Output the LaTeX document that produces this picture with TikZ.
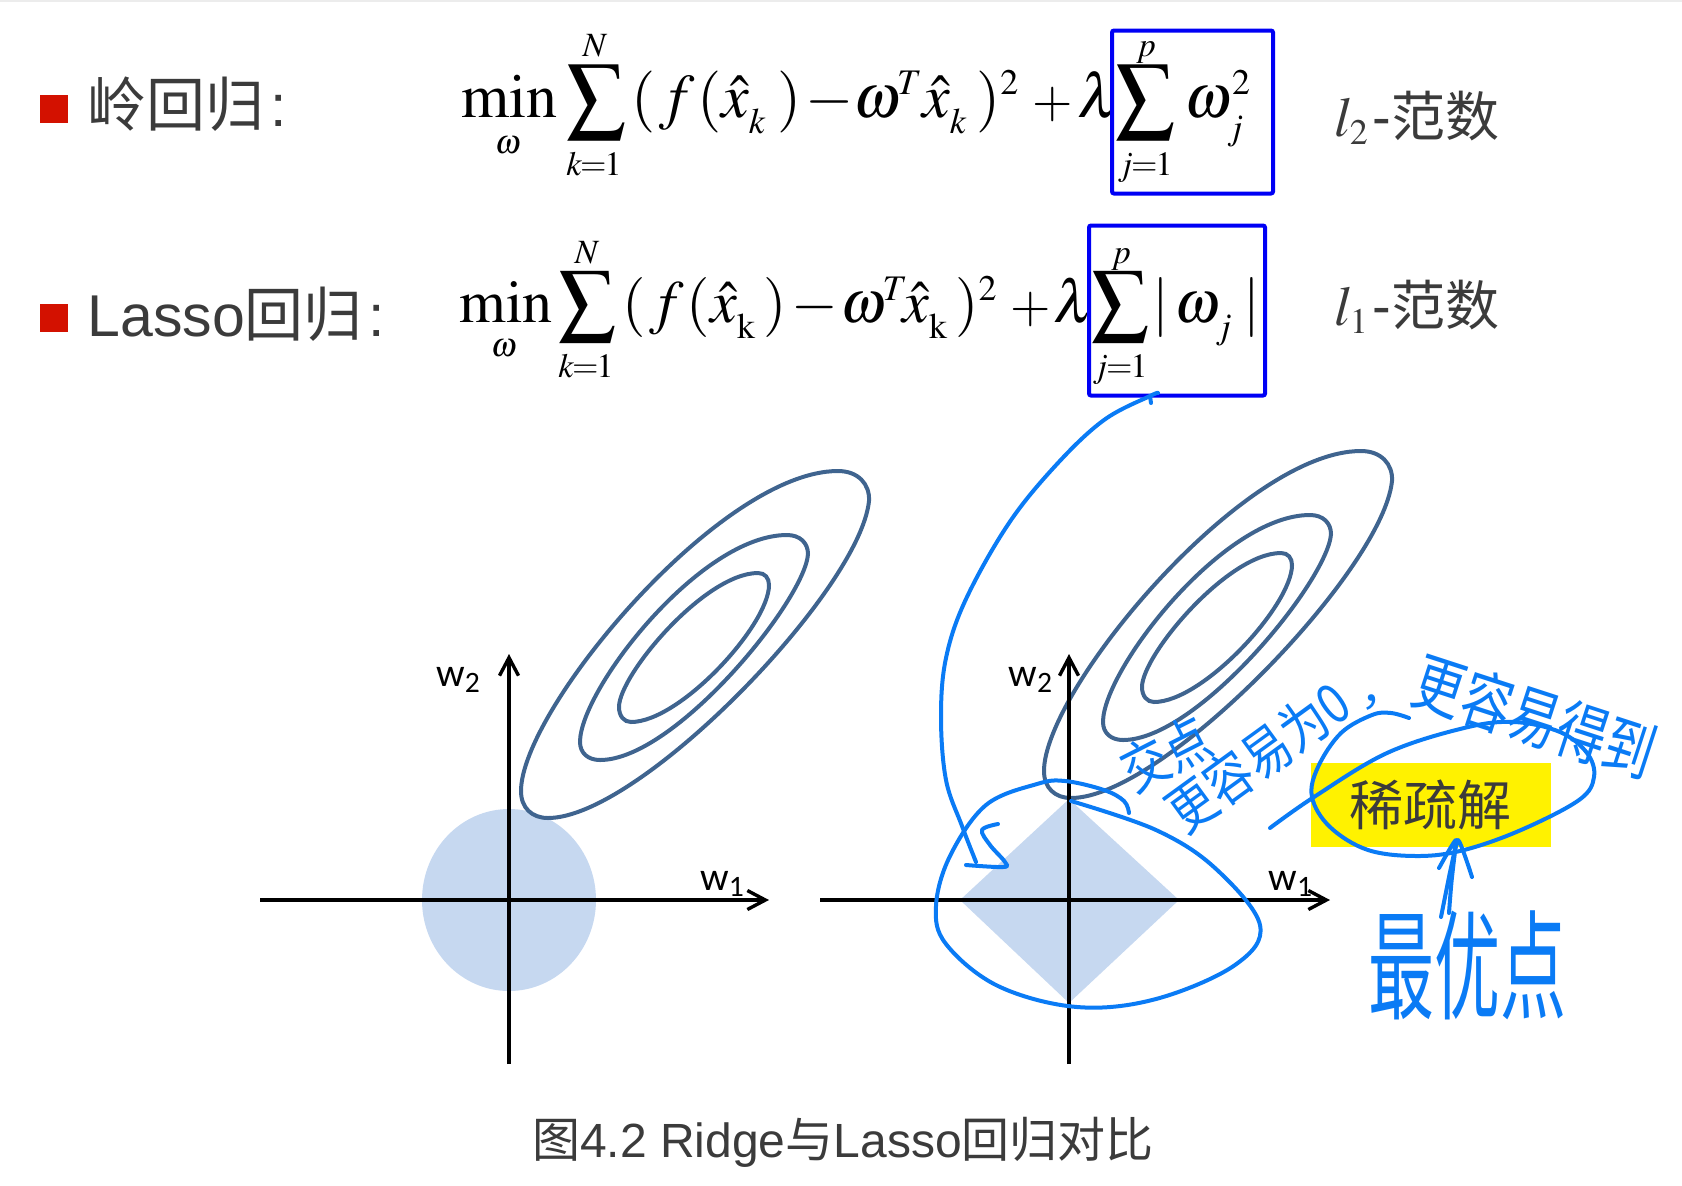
\documentclass[tikz,border=0pt]{standalone}
\usepackage{mathptmx}
\usepackage[no-math]{fontspec}
\setmainfont{Liberation Sans}
\newfontfamily\cjk{Noto Sans CJK SC}
\newfontfamily\axisfont{Carlito}
\usepackage{xcolor}
\usetikzlibrary{arrows.meta}

\definecolor{bulletred}{HTML}{D31100}
\definecolor{slidegray}{HTML}{3B3B3B}
\definecolor{boxblue}{HTML}{0000F5}
\definecolor{inkblue}{HTML}{0A7BF5}
\definecolor{regionblue}{HTML}{C6D8F0}
\definecolor{contourblue}{HTML}{3F648F}

\DeclareMathSizes{31}{31}{18}{14}
\DeclareMathSizes{30}{30}{18}{14}
\DeclareMathSizes{28}{28}{18}{14}
\newcommand{\fs}[1]{\fontsize{#1}{#1}\selectfont}
\newcommand{\bigsum}[2]{\resizebox*{#1}{#2}{$\displaystyle\sum$}}
\newcommand{\lowsub}[1]{\raisebox{-3.5pt}{$\scriptstyle #1$}}

% the three nested level curves, used by both plots
\newcommand{\levelcurves}{
    \draw[contour] (838,471) .. controls (858,471) and (870,484) .. (869,501)
        .. controls (860,590) and (640,818) .. (548,818)
        .. controls (532,818) and (521,808) .. (521,791)
        .. controls (521,710) and (720,471) .. cycle;
    \draw[contour] (787,535) .. controls (800,535) and (808,543) .. (808,554)
        .. controls (805,600) and (675,760) .. (600,760)
        .. controls (588,760) and (580,753) .. (580,742)
        .. controls (580,690) and (700,535) .. cycle;
    \draw[contour] (758,573) .. controls (765,573) and (769,578) .. (769,585)
        .. controls (769,625) and (680,722) .. (631,722)
        .. controls (624,722) and (619,716) .. (619,707)
        .. controls (619,675) and (705,573) .. cycle;
}

\begin{document}
\begin{tikzpicture}[
        x=0.5pt, y=-0.5pt,
        % Styles for the slide text
        bullet/.style={fill=bulletred, minimum width=14pt, minimum height=14pt, inner sep=0pt},
        slidetext/.style={anchor=base west, inner sep=0pt, text=slidegray, font=\fs{29.5}},
        normtext/.style={anchor=base west, inner sep=0pt, text=slidegray, font=\fs{28}},
        caption/.style={inner sep=0pt, text=slidegray, font=\fs{24}},
        % Styles for the formulas
        mathpart/.style={anchor=base west, inner sep=0pt, font=\fs{31}},
        mathpartb/.style={anchor=base west, inner sep=0pt, font=\fs{30}},
        mathplus/.style={anchor=base west, inner sep=0pt, font=\fs{26}},
        mathsmall/.style={anchor=base, inner sep=0pt, font=\fs{17}},
        sumsign/.style={inner sep=0pt},
        normbox/.style={draw=boxblue, line width=2pt, rounded corners=1pt, inner sep=0pt},
        % Styles for the plots
        axis/.style={line width=1.7pt, black},
        axisarrow/.style={axis, -{Straight Barb[length=9pt, width=9.5pt, line width=1.7pt]}},
        axislabel/.style={anchor=base west, inner sep=0pt, font=\axisfont\fs{20}},
        contour/.style={line width=2pt, contourblue},
        % Styles for the handwriting
        ink/.style={line width=2pt, inkblue, line cap=round, line join=round},
        inktext/.style={inner sep=0pt, text=inkblue, font=\cjk\fs{23}, transform shape},
        sparsebox/.style={fill=yellow, minimum width=120pt, minimum height=42pt, inner sep=0pt, text=slidegray, font=\cjk\fs{27}}
    ]
    \useasboundingbox (0,0) rectangle (1682,1185);
    \fill[gray!15] (0,0) rectangle (1682,2);

    % --- RIDGE ROW ---
    \node[bullet] (ridgebullet) at (54,109) {};
    \node[slidetext] (ridgetitle) at (87,126) {{\cjk 岭回归}\hspace{3pt}:};

    \node[mathpart] (rmin) at (461,117) {$\mathrm{min}$};
    \node[mathsmall] (romega) at (508,153) {$\omega$};
    \node[sumsign] (rsum) at (596,102) {\bigsum{30pt}{37.5pt}};
    \node[mathsmall] (rtop) at (595,56) {$N$};
    \node[mathsmall] (rbottom) at (594,175) {$k\mkern-1mu{=}\mkern-1mu1$};
    \node[mathpart] (rparen) at (631,117) {$(\mkern1mu f\mkern1mu($};
    \node[mathpart] (rxhat) at (721,117) {$\hat{x}_{\lowsub{k}}$};
    \node[mathpart] (rclose) at (777,117) {$)$};
    \node[mathpart] (rminus) at (805,117) {$-$};
    \node[mathpart] (romegat) at (853,117) {$\omega^{\mkern-2mu T}$};
    \node[mathpart] (rxhatb) at (922,117) {$\hat{x}_{\lowsub{k}}$};
    \node[mathpart] (rcloseb) at (976,117) {$)^{2}$};
    \node[mathplus] (rplus) at (1032,117) {$+$};
    \node[mathpart] (rlambda) at (1077,117) {$\lambda$};
    \node[sumsign] (rnormsum) at (1145,102) {\bigsum{30pt}{37.5pt}};
    \node[mathsmall] (rnormtop) at (1146,56) {$p$};
    \node[mathsmall] (rnormbottom) at (1145,175) {$j\mkern-1mu{=}\mkern-1mu1$};
    \node[mathpart] (rnorm) at (1184,117) {$\omega_{\lowsub{j}}^{2}$};
    \node[normbox, minimum width=80.5pt, minimum height=81.5pt] (l2box) at (1192.5,112) {};
    \node[normtext] (l2label) at (1334,136) {$l_2$\hspace{2pt}-{\cjk\fs{27}范数}};

    % --- LASSO ROW ---
    \node[bullet] (lassobullet) at (54,318) {};
    \node[slidetext] (lassotitle) at (87,336) {Lasso{\cjk 回归}\hspace{3pt}:};

    \node[mathpartb] (lmin) at (459,322) {$\mathrm{min}$};
    \node[mathsmall] (lomega) at (504,356) {$\omega$};
    \node[sumsign] (lsum) at (587,307) {\bigsum{29pt}{35.5pt}};
    \node[mathsmall] (ltop) at (587,263) {$N$};
    \node[mathsmall] (lbottom) at (586,377) {$k\mkern-1mu{=}\mkern-1mu1$};
    \node[mathpartb] (lparen) at (622,322) {$(\mkern1mu f\mkern1mu($};
    \node[mathpartb] (lxhat) at (710,322) {$\hat{x}_{\lowsub{\mathrm{k}}}$};
    \node[mathpartb] (lclose) at (763,322) {$)$};
    \node[mathpartb] (lminus) at (791,322) {$-$};
    \node[mathpartb] (lomegat) at (840,322) {$\omega^{\mkern-2mu T}$};
    \node[mathpartb] (lxhatb) at (902,322) {$\hat{x}_{\lowsub{\mathrm{k}}}$};
    \node[mathpartb] (lcloseb) at (955,322) {$)^{2}$};
    \node[mathplus] (lplus) at (1010,322) {$+$};
    \node[mathpartb] (llambda) at (1053,322) {$\lambda$};
    \node[sumsign] (lnormsum) at (1120,307) {\bigsum{29pt}{35.5pt}};
    \node[mathsmall] (lnormtop) at (1121,263) {$p$};
    \node[mathsmall] (lnormbottom) at (1120,377) {$j\mkern-1mu{=}\mkern-1mu1$};
    \node[mathpartb] (lbar) at (1152,322) {$|$};
    \node[mathpartb] (lnorm) at (1174,322) {$\omega_{\lowsub{j}}$};
    \node[mathpartb] (lbarb) at (1243,322) {$|$};
    \node[normbox, minimum width=88pt, minimum height=85pt] (l1box) at (1177,310.5) {};
    \node[normtext] (l1label) at (1334,325) {$l_1$\hspace{2pt}-{\cjk\fs{27}范数}};

    % --- LEFT PLOT ---
    \fill[regionblue] (509,900) ellipse [x radius=87, y radius=91];
    \levelcurves
    \coordinate (lx0) at (260,900);
    \coordinate (lx1) at (769,900);
    \coordinate (ly0) at (509,1064);
    \coordinate (ly1) at (509,654);
    \draw[axisarrow] (lx0) -- (lx1);
    \draw[axisarrow] (ly0) -- (ly1);
    \node[axislabel] (lw2) at (436,686) {w\textsubscript{2}};
    \node[axislabel] (lw1) at (700,890) {w\textsubscript{1}};

    % --- RIGHT PLOT ---
    \fill[regionblue] (960,900) -- (1069,799) -- (1179,900) -- (1069,1003) -- cycle;
    \begin{scope}[shift={(523,-20)}]
        \levelcurves
    \end{scope}
    \coordinate (rx0) at (820,900);
    \coordinate (rx1) at (1330,900);
    \coordinate (ry0) at (1069,1064);
    \coordinate (ry1) at (1069,654);
    \draw[axisarrow] (rx0) -- (rx1);
    \draw[axisarrow] (ry0) -- (ry1);
    \node[axislabel] (rw2) at (1008,686) {w\textsubscript{2}};
    \node[axislabel] (rw1) at (1268,890) {w\textsubscript{1}};

    % --- HIGHLIGHT AND HANDWRITING ---
    \node[sparsebox] (sparse) at (1430.5,805) {稀疏解};

    % curve round the diamond
    \draw[ink] plot[smooth, tension=0.6] coordinates {(1071,801) (1156,830) (1215,868) (1260,925) (1235,965) (1156,999) (1077,1007) (998,986) (946,944) (936,906) (950,856) (986,805) (1037,784) (1065,781) (1104,790) (1124,801) (1129,813)};
    % curve from the box down to the diamond
    \draw[ink] plot[smooth, tension=0.6] coordinates {(1158,393) (1150,396) (1104,420) (1057,464) (1009,523) (966,599) (946,658) (941,717) (946,780) (962,826) (976,862)};
    \draw[ink] (1150,396) -- (1151,403);
    \draw[ink] plot[smooth, tension=0.6] coordinates {(998,824) (982,830) (990,845) (1005,862) (1003,867) (966,865)};
    % curve round the highlighted text
    \draw[ink] plot[smooth, tension=0.6] coordinates {(1270,828) (1314,797) (1387,753) (1464,728) (1514,722) (1560,732) (1587,753) (1594,777) (1579,800) (1521,830) (1464,850) (1418,856) (1368,850) (1330,827) (1312,797) (1318,767) (1341,733) (1372,715) (1391,713) (1409,718)};
    % stroke from the bottom note up to the curve
    \draw[ink] plot[smooth, tension=0.4] coordinates {(1441,917) (1449,877) (1456,840) (1439,868)};
    \draw[ink] plot[smooth, tension=0.4] coordinates {(1449,913) (1452,877) (1458,840) (1472,877)};

    \node[inktext, rotate=27, yscale=1.2] (crossnote) at (1166,754) {交点};
    \node[inktext, rotate=36, yscale=1.2] (zeronote) at (1258,757) {更容易为0};
    \node[inktext] (commanote) at (1383,703) {，};
    \node[inktext, font=\cjk\fs{25}, rotate=-18, yscale=1.3] (sparsenote) at (1535,717) {更容易得到};
    \node[inktext, font=\cjk\fs{33}, yscale=1.8] (bestnote) at (1467,965) {最优点};

    % --- CAPTION ---
    \node[caption] (figcaption) at (843,1142) {{\cjk 图}4.2 Ridge{\cjk 与}Lasso{\cjk 回归对比}};
\end{tikzpicture}
\end{document}
